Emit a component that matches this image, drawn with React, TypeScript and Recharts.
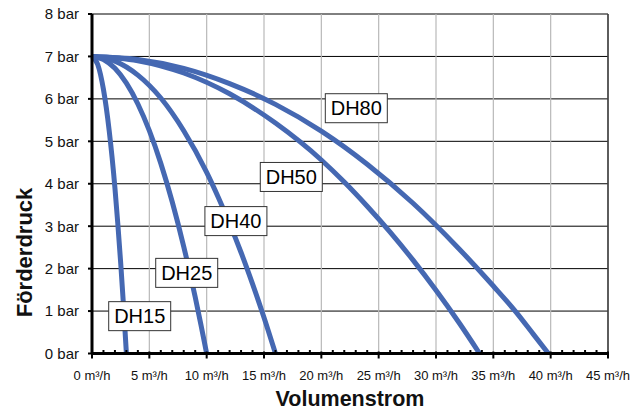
import React from 'react';
import { ComposedChart, Line, XAxis, YAxis, CartesianGrid, ReferenceLine, Scatter, Label } from 'recharts';

// Pump curves: q = Volumenstrom (m³/h), p = Förderdruck (bar)
const dh15 = [
  { q: 0, p: 7 }, { q: 0.5, p: 6.81 }, { q: 1, p: 6.22 }, { q: 1.5, p: 5.25 }, { q: 2, p: 3.9 },
  { q: 2.25, p: 3.06 }, { q: 2.5, p: 2.14 }, { q: 2.75, p: 1.12 }, { q: 3, p: 0 },
];
const dh25 = [
  { q: 0, p: 7 }, { q: 1, p: 6.93 }, { q: 2, p: 6.72 }, { q: 3, p: 6.37 }, { q: 4, p: 5.88 },
  { q: 5, p: 5.25 }, { q: 6, p: 4.48 }, { q: 7, p: 3.57 }, { q: 8, p: 2.52 }, { q: 9, p: 1.33 },
  { q: 9.5, p: 0.68 }, { q: 10, p: 0 },
];
const dh40 = [
  { q: 0, p: 7 }, { q: 2, p: 6.89 }, { q: 4, p: 6.56 }, { q: 6, p: 6.02 }, { q: 8, p: 5.25 },
  { q: 10, p: 4.27 }, { q: 11, p: 3.69 }, { q: 12, p: 3.06 }, { q: 13, p: 2.38 }, { q: 14, p: 1.64 },
  { q: 15, p: 0.85 }, { q: 16, p: 0 },
];
const dh50 = [
  { q: 0, p: 7 }, { q: 4, p: 6.9 }, { q: 8, p: 6.61 }, { q: 12, p: 6.12 }, { q: 16, p: 5.43 },
  { q: 20, p: 4.56 }, { q: 22, p: 4.04 }, { q: 24, p: 3.47 }, { q: 26, p: 2.86 }, { q: 28, p: 2.2 },
  { q: 30, p: 1.49 }, { q: 32, p: 0.73 }, { q: 33.8, p: 0 },
];
const dh80 = [
  { q: 0, p: 7 }, { q: 4, p: 6.93 }, { q: 8, p: 6.72 }, { q: 12, p: 6.36 }, { q: 16, p: 5.87 },
  { q: 20, p: 5.24 }, { q: 24, p: 4.46 }, { q: 28, p: 3.54 }, { q: 32, p: 2.47 }, { q: 35, p: 1.59 },
  { q: 37, p: 0.97 }, { q: 38.5, p: 0.45 }, { q: 39.8, p: 0 },
];

// Curve name labels, anchored in data coordinates
const curveLabels = [
  { q: 23.05, p: 5.78, name: 'DH80' },
  { q: 17.38, p: 4.16, name: 'DH50' },
  { q: 12.55, p: 3.12, name: 'DH40' },
  { q: 8.26, p: 1.9, name: 'DH25' },
  { q: 4.16, p: 0.88, name: 'DH15' },
];

const yTicks = [0, 1, 2, 3, 4, 5, 6, 7, 8];
const xMajorTicks = [0, 5, 10, 15, 20, 25, 30, 35, 40, 45];
const xAllTicks = [
  0, 1, 2, 3, 4, 5, 6, 7, 8, 9, 10, 11, 12, 13, 14, 15, 16, 17, 18, 19, 20, 21, 22,
  23, 24, 25, 26, 27, 28, 29, 30, 31, 32, 33, 34, 35, 36, 37, 38, 39, 40, 41, 42, 43, 44, 45,
];
const xGridTicks = [5, 10, 15, 20, 25, 30, 35, 40];

const FONT = 'Arial, "Liberation Sans", sans-serif';
const BLUE = '#4568B2';

const XTick = (props: any) => {
  const { x, y, payload } = props;
  const v = payload.value;
  const major = xMajorTicks.includes(v);
  if (!major) {
    return <line x1={x} x2={x} y1={y - 3.5} y2={y} stroke="#000" strokeWidth={2} />;
  }
  return (
    <g>
      <line x1={x} x2={x} y1={y - 2} y2={y + 5} stroke="#000" strokeWidth={2} />
      <text x={x} y={y + 26.5} textAnchor="middle" fontSize={13} fontFamily={FONT} fill="#111">
        {`${v} m³/h`}
      </text>
    </g>
  );
};

const LabelBox = (props: any) => {
  const { cx, cy, payload } = props;
  const w = 62;
  const h = 29;
  return (
    <g>
      <rect x={cx - w / 2} y={cy - h / 2} width={w} height={h} fill="#fff" stroke="#333" strokeWidth={1} />
      <text x={cx} y={cy + 7} textAnchor="middle" fontSize={20} fontFamily={FONT} fill="#000">
        {payload.name}
      </text>
    </g>
  );
};

export default function App() {
  return (
    <div style={{ position: 'absolute', left: 0, top: 0, width: 643, height: 411, background: '#fff' }}>
      <ComposedChart width={643} height={411} margin={{ top: 14, right: 35, bottom: 27.5, left: 0 }}>
        <CartesianGrid vertical={false} stroke="#000" strokeWidth={1} />
        {xGridTicks.map((t) => (
          <ReferenceLine key={t} x={t} stroke="#b9b9b9" strokeWidth={1.2} />
        ))}
        <ReferenceLine x={45} stroke="#404040" strokeWidth={1.7} />
        <XAxis
          type="number"
          dataKey="q"
          domain={[0, 45]}
          ticks={xAllTicks}
          interval={0}
          height={30}
          tickSize={0}
          tickMargin={0}
          tickLine={false}
          tick={<XTick />}
          axisLine={{ stroke: '#000', strokeWidth: 3 }}
        >
          <Label
            content={() => (
              <text x={350} y={406} textAnchor="middle" fontSize={21.5} fontWeight="bold" fontFamily={FONT} fill="#111">
                Volumenstrom
              </text>
            )}
          />
        </XAxis>
        <YAxis
          type="number"
          domain={[0, 8]}
          ticks={yTicks}
          interval={0}
          width={92}
          tickSize={4}
          tickMargin={9}
          tickLine={{ stroke: '#000', strokeWidth: 2 }}
          axisLine={{ stroke: '#000', strokeWidth: 3 }}
          tickFormatter={(v: number) => `${v} bar`}
          tick={{ fontSize: 15, fontFamily: FONT, fill: '#111' }}
        >
          <Label
            content={() => (
              <text
                x={32}
                y={252.5}
                transform="rotate(-90 32 252.5)"
                textAnchor="middle"
                fontSize={22}
                fontWeight="bold"
                fontFamily={FONT}
                fill="#111"
              >
                Förderdruck
              </text>
            )}
          />
        </YAxis>
        <Line data={dh15} dataKey="p" type="monotone" stroke={BLUE} strokeWidth={5} dot={false} isAnimationActive={false} />
        <Line data={dh25} dataKey="p" type="monotone" stroke={BLUE} strokeWidth={5} dot={false} isAnimationActive={false} />
        <Line data={dh40} dataKey="p" type="monotone" stroke={BLUE} strokeWidth={5} dot={false} isAnimationActive={false} />
        <Line data={dh50} dataKey="p" type="monotone" stroke={BLUE} strokeWidth={5} dot={false} isAnimationActive={false} />
        <Line data={dh80} dataKey="p" type="monotone" stroke={BLUE} strokeWidth={5} dot={false} isAnimationActive={false} />
        <Scatter data={curveLabels} dataKey="p" shape={<LabelBox />} isAnimationActive={false} />
      </ComposedChart>
    </div>
  );
}
